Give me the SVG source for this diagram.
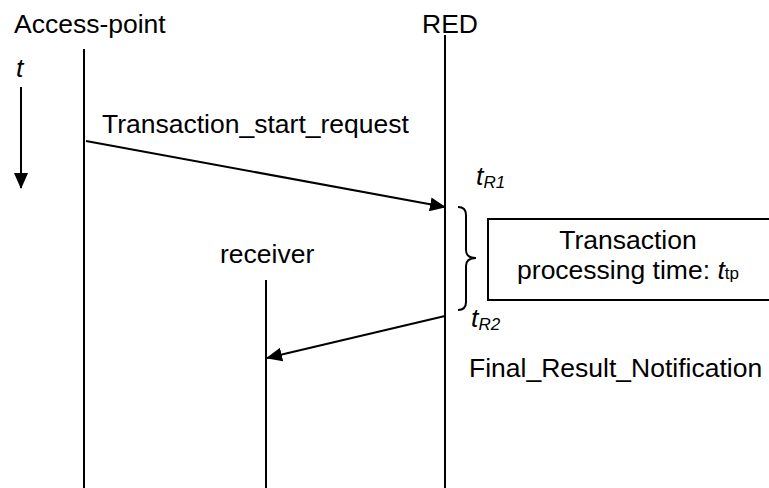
<svg xmlns="http://www.w3.org/2000/svg" width="769" height="488" viewBox="0 0 769 488">
<defs>
<style>
text{font-family:"Liberation Sans",Arial,sans-serif;fill:#000;font-size:26.5px}
.it{font-style:italic}
.sub{font-size:17px}
.ln{stroke:#000;stroke-width:2;fill:none}
</style>
<marker id="ah" markerWidth="16" markerHeight="14" refX="15" refY="7" orient="auto" markerUnits="userSpaceOnUse">
<path d="M0,0 L16,7 L0,14 Z" fill="#000"/>
</marker>
</defs>
<rect width="769" height="488" fill="#fff"/>
<g id="access-point">
<text x="14" y="33">Access-point</text>
<line class="ln" x1="84" y1="49" x2="84" y2="488"/>
</g>
<g id="red">
<text x="422" y="33">RED</text>
<line class="ln" x1="445" y1="35" x2="445" y2="488"/>
</g>
<g id="receiver">
<text x="220" y="263">receiver</text>
<line class="ln" x1="266" y1="280" x2="266" y2="488"/>
</g>
<g id="time">
<text class="it" x="16" y="77">t</text>
<line class="ln" x1="21" y1="87" x2="21" y2="188" marker-end="url(#ah)"/>
</g>
<g id="processing">
<rect class="ln" x="488" y="219" width="282" height="81"/>
<text x="628" y="249" text-anchor="middle">Transaction</text>
<text x="628" y="279" text-anchor="middle">processing time: <tspan class="it">t</tspan><tspan class="sub">tp</tspan></text>
<path class="ln" d="M458,207 Q466,207 466,215 L466,250 Q466,258 476,258 Q466,258 466,266 L466,302 Q466,310 458,310"/>
<text class="it" x="476" y="185">t<tspan class="sub" dy="3">R1</tspan></text>
<text class="it" x="471" y="327">t<tspan class="sub" dy="3">R2</tspan></text>
</g>
<g id="connectors">
<line class="ln" x1="86" y1="141" x2="445" y2="207" marker-end="url(#ah)"/>
<text x="102" y="133">Transaction_start_request</text>
<line class="ln" x1="445" y1="316" x2="267" y2="358" marker-end="url(#ah)"/>
<text x="469" y="377">Final_Result_Notification</text>
</g>
</svg>
